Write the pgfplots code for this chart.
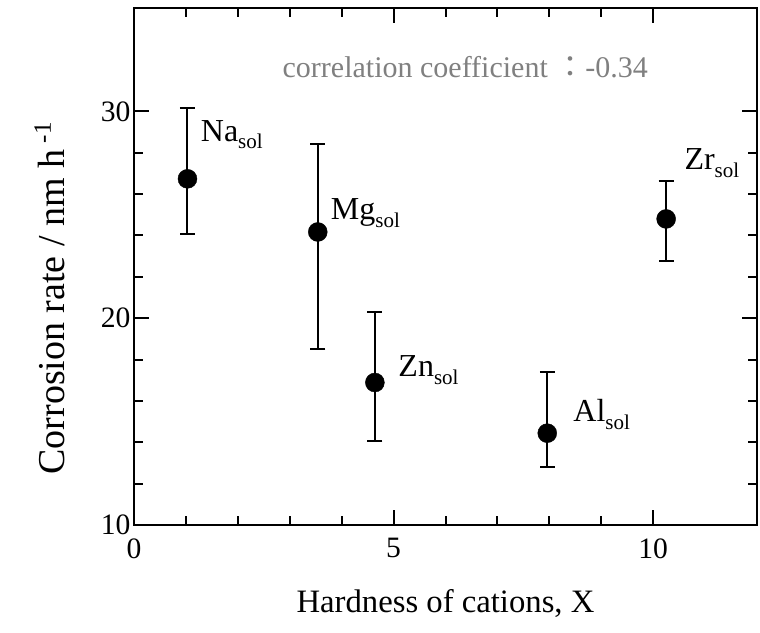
\documentclass[border=0pt]{standalone}
\usepackage{fontspec}
\setmainfont{Liberation Serif}
\newfontfamily\cjk{Noto Sans CJK JP}
\usepackage{pgfplots}
\pgfplotsset{compat=1.18}
\newcommand\lsub[1]{\raisebox{-7.5pt}{\fontsize{21}{21}\selectfont #1}}
\begin{document}
\begin{tikzpicture}
\begin{axis}[name=ax, scale only axis, width=623pt, height=517pt,
  xmin=0, xmax=12, ymin=10, ymax=35,
  xtick={0,5,10}, ytick={10,20,30},
  minor x tick num=4, minor y tick num=4,
  tick align=inside, major tick length=15pt, minor tick length=9pt,
  axis line style={line width=2.5pt},
  every tick/.style={line width=2pt, black},
  tick label style={font=\fontsize{29.6}{32}\selectfont},
  xticklabel style={yshift=-10pt},
  /pgf/number format/assume math mode=true,
  clip=false]
\addplot[black, only marks, mark=*, mark size=9.5pt,
  error bars/.cd, y dir=both, y explicit,
  error mark options={rotate=90, line width=2pt, mark size=7.5pt},
  error bar style={line width=2pt}]
  coordinates {
  (1.03,26.74)  += (0,3.41) -= (0,2.65)
  (3.54,24.17)  += (0,4.23) -= (0,5.65)
  (4.64,16.89)  += (0,3.39) -= (0,2.81)
  (7.96,14.44)  += (0,2.98) -= (0,1.65)
  (10.25,24.80) += (0,1.82) -= (0,2.05)
  };
\begin{scope}[every node/.style={anchor=base west, inner sep=0pt, font=\fontsize{32}{36}\selectfont}]
\node at (axis cs:1.285,28.56) {Na\lsub{sol}};
\node at (axis cs:3.79,24.77) {Mg\lsub{sol}};
\node at (axis cs:5.09,17.17) {Zn\lsub{sol}};
\node at (axis cs:8.46,15.0) {Al\lsub{sol}};
\node at (axis cs:10.60,27.19) {Zr\lsub{sol}};
\end{scope}
\node[anchor=base, inner sep=0pt, text=black!50, font=\fontsize{30}{34}\selectfont]
  at (axis cs:6.38,31.65) {correlation coefficient {\cjk ：}-0.34};
\node[anchor=base, inner sep=0pt, font=\fontsize{32.7}{36}\selectfont]
  at (axis description cs:0.5,-0.170) {Hardness of cations, X};
\node[rotate=90, anchor=base west, inner sep=0pt, font=\fontsize{38}{42}\selectfont]
  at (axis description cs:-0.111,0.097) {Corrosion rate / nm h\,\raisebox{14pt}{\fontsize{25}{25}\selectfont -1}};
\end{axis}
\pgfresetboundingbox
\path[use as bounding box] ([shift={(-134pt,-107pt)}]ax.south west) rectangle ([shift={(3pt,8pt)}]ax.north east);
\end{tikzpicture}
\end{document}
